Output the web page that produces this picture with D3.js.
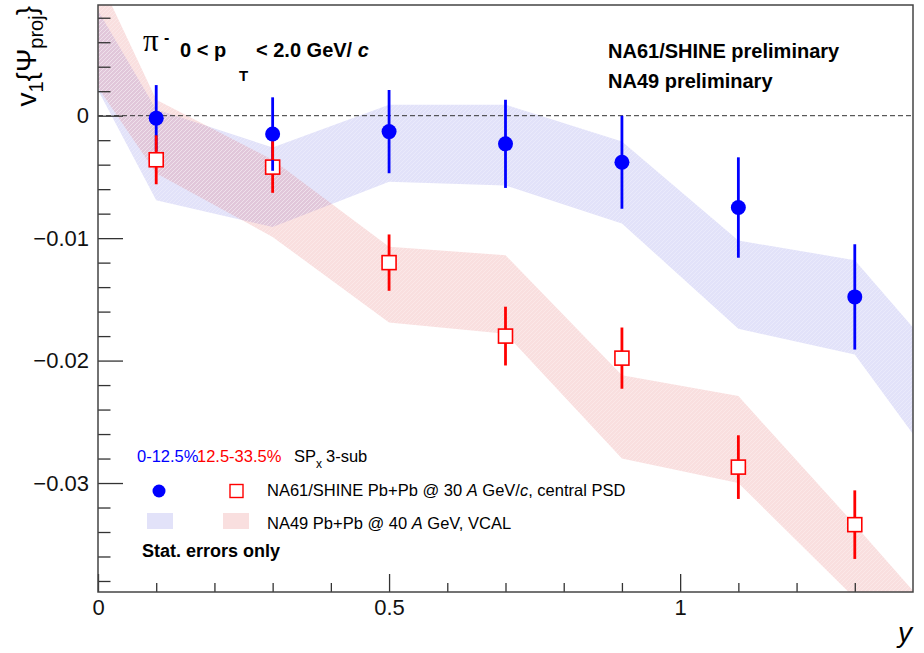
<!DOCTYPE html>
<html>
<head>
<meta charset="utf-8">
<script src="https://cdn.jsdelivr.net/npm/d3@7"></script>
<style>
  body { margin: 0; background: #fff; }
  svg text { font-family: "Liberation Sans", Arial, sans-serif; }
</style>
</head>
<body>
<svg id="chart" width="924" height="653"></svg>
<script>
// rapidity bins of the NA61/SHINE points
var rapidity = [0.1, 0.3, 0.5, 0.7, 0.9, 1.1, 1.3];
// 0-12.5% (blue circles)
var v1Central    = [-0.0002, -0.0015, -0.0013, -0.0023, -0.0038, -0.0075, -0.0148];
var v1CentralErr = [0.0027, 0.0030, 0.0034, 0.0036, 0.0038, 0.0041, 0.0043];
// 12.5-33.5% (red squares)
var v1MidCentral    = [-0.0036, -0.0042, -0.0120, -0.0180, -0.0198, -0.0287, -0.0334];
var v1MidCentralErr = [0.0020, 0.0021, 0.0023, 0.0024, 0.0025, 0.0026, 0.0028];

// NA49 bands (upper / lower edge)
var bandRapidity = [0.0, 0.1, 0.3, 0.5, 0.7, 0.9, 1.1, 1.3, 1.5];
var na49CentralHi = [0.0086, 0.0005, -0.0026, 0.0009, 0.0009, -0.0021, -0.0102, -0.0118, -0.0228];
var na49CentralLo = [0.0021, -0.0069, -0.0091, -0.0054, -0.0057, -0.0088, -0.0174, -0.0195, -0.0325];
var na49MidHi = [0.0114, 0.0013, -0.0036, -0.0107, -0.0114, -0.0212, -0.0229, -0.0334, -0.0442];
var na49MidLo = [0.0023, -0.0047, -0.0099, -0.0169, -0.0178, -0.0280, -0.0300, -0.0394, -0.0501];

var xMajor = [0, 0.5, 1];
var xMajorLabels = ["0", "0.5", "1"];
var xMinor = [0.1, 0.2, 0.3, 0.4, 0.6, 0.7, 0.8, 0.9, 1.1, 1.2, 1.3];
var yMajor = [-0.03, -0.02, -0.01, 0];
var yMajorLabels = ["\u22120.03", "\u22120.02", "\u22120.01", "0"];
var yMinor = [-0.038, -0.036, -0.034, -0.032, -0.028, -0.026, -0.024, -0.022,
              -0.018, -0.016, -0.014, -0.012, -0.008, -0.006, -0.004, -0.002,
              0.002, 0.004, 0.006, 0.008];

var frame = {left: 98, right: 913, top: 5, bottom: 592};
var svg = d3.select("#chart");

var x = d3.scaleLinear().domain([0, 1.4]).range([frame.left, frame.right]);
var y = d3.scaleLinear().domain([-0.0389, 0.00904]).range([frame.bottom, frame.top]);

var defs = svg.append("defs");
defs.append("clipPath").attr("id", "clip")
  .append("rect")
  .attr("x", frame.left).attr("y", frame.top)
  .attr("width", frame.right - frame.left).attr("height", frame.bottom - frame.top);

var hatch = defs.append("pattern")
  .attr("id", "hatch")
  .attr("patternUnits", "userSpaceOnUse")
  .attr("width", 4).attr("height", 4);
hatch.append("path")
  .attr("d", "M-1,1 l2,-2 M0,4 l4,-4 M3,5 l2,-2")
  .attr("stroke", "#fff").attr("stroke-opacity", 0.35).attr("stroke-width", 0.8);

// bands
var band = d3.area()
  .x(function(d) { return x(d.r); })
  .y0(function(d) { return y(d.lo); })
  .y1(function(d) { return y(d.hi); });

function bandData(hi, lo) {
  return bandRapidity.map(function(r, i) { return {r: r, hi: hi[i], lo: lo[i]}; });
}

var gb = svg.append("g").attr("clip-path", "url(#clip)");
gb.append("path").datum(bandData(na49CentralHi, na49CentralLo))
  .attr("d", band).attr("fill", "#7070e0").attr("fill-opacity", 0.2);
gb.append("path").datum(bandData(na49MidHi, na49MidLo))
  .attr("d", band).attr("fill", "#e06060").attr("fill-opacity", 0.2);
gb.append("path").datum(bandData(na49CentralHi, na49CentralLo))
  .attr("d", band).attr("fill", "url(#hatch)");
gb.append("path").datum(bandData(na49MidHi, na49MidLo))
  .attr("d", band).attr("fill", "url(#hatch)");

// zero line
svg.append("line")
  .attr("x1", x(0)).attr("x2", x(1.4))
  .attr("y1", y(0)).attr("y2", y(0))
  .attr("stroke", "#333").attr("stroke-width", 1)
  .style("stroke-dasharray", "5,3");

// axes
var yMinorAxis = svg.append("g")
  .attr("transform", "translate(" + frame.left + ",0)")
  .call(d3.axisLeft(y).tickValues(yMinor).tickSize(-12.5).tickFormat(""));
var yAxis = svg.append("g")
  .attr("transform", "translate(" + frame.left + ",0)")
  .call(d3.axisLeft(y).tickValues(yMajor).tickSize(-25).tickPadding(9)
        .tickFormat(function(d, i) { return yMajorLabels[i]; }));
var xMinorAxis = svg.append("g")
  .attr("transform", "translate(0," + frame.bottom + ")")
  .call(d3.axisBottom(x).tickValues(xMinor).tickSize(-9).tickFormat(""));
var xAxis = svg.append("g")
  .attr("transform", "translate(0," + frame.bottom + ")")
  .call(d3.axisBottom(x).tickValues(xMajor).tickSize(-18).tickPadding(7)
        .tickFormat(function(d, i) { return xMajorLabels[i]; }));

svg.selectAll(".domain").remove();
svg.selectAll(".tick line").attr("stroke", "#333").attr("stroke-width", 1.3);
svg.selectAll(".tick text")
  .style("font-family", "'Liberation Sans', Arial, sans-serif")
  .style("font-size", "22px").attr("fill", "#111");

svg.append("rect")
  .attr("x", frame.left).attr("y", frame.top)
  .attr("width", frame.right - frame.left).attr("height", frame.bottom - frame.top)
  .attr("fill", "none").attr("stroke", "#444").attr("stroke-width", 1.5);

// points
var blue = rapidity.map(function(r, i) { return {r: r, v: v1Central[i], e: v1CentralErr[i]}; });
var red = rapidity.map(function(r, i) { return {r: r, v: v1MidCentral[i], e: v1MidCentralErr[i]}; });
var half = 7;

svg.selectAll(".sq").data(red).enter().append("rect")
  .attr("class", "sq")
  .attr("x", function(d) { return x(d.r) - half; })
  .attr("y", function(d) { return y(d.v) - half; })
  .attr("width", 2 * half).attr("height", 2 * half)
  .attr("fill", "#fff").attr("stroke", "#ff0000").attr("stroke-width", 1.6);

svg.selectAll(".bluebar").data(blue).enter().append("line")
  .attr("class", "bluebar")
  .attr("x1", function(d) { return x(d.r); }).attr("x2", function(d) { return x(d.r); })
  .attr("y1", function(d) { return y(d.v + d.e); }).attr("y2", function(d) { return y(d.v - d.e); })
  .attr("stroke", "#0000ff").attr("stroke-width", 2.8);

svg.selectAll(".dot").data(blue).enter().append("circle")
  .attr("class", "dot")
  .attr("cx", function(d) { return x(d.r); })
  .attr("cy", function(d) { return y(d.v); })
  .attr("r", 7.5).attr("fill", "#0000ff");

svg.selectAll(".redup").data(red).enter().append("line")
  .attr("class", "redup")
  .attr("x1", function(d) { return x(d.r); }).attr("x2", function(d) { return x(d.r); })
  .attr("y1", function(d) { return y(d.v + d.e); }).attr("y2", function(d) { return y(d.v) - half; })
  .attr("stroke", "#ff0000").attr("stroke-width", 2.8);
svg.selectAll(".reddn").data(red).enter().append("line")
  .attr("class", "reddn")
  .attr("x1", function(d) { return x(d.r); }).attr("x2", function(d) { return x(d.r); })
  .attr("y1", function(d) { return y(d.v) + half; }).attr("y2", function(d) { return y(d.v - d.e); })
  .attr("stroke", "#ff0000").attr("stroke-width", 2.8);

// axis titles
var yt = svg.append("text")
  .attr("transform", "translate(36,6) rotate(-90)")
  .attr("text-anchor", "end")
  .style("font-size", "28px").attr("fill", "#000");
yt.append("tspan").text("v");
yt.append("tspan").attr("dy", 7).style("font-size", "20px").text("1");
yt.append("tspan").attr("dy", -7).text("{\u03A8");
yt.append("tspan").attr("dy", 7).style("font-size", "20px").text("proj");
yt.append("tspan").attr("dy", -7).text("}");

svg.append("text")
  .attr("x", 912).attr("y", 642)
  .attr("text-anchor", "end")
  .style("font-size", "28px").style("font-style", "italic")
  .text("y");

// pion label
svg.append("text").attr("x", 143).attr("y", 51)
  .style("font-family", "'Liberation Serif', serif").style("font-size", "31px")
  .text("\u03C0");
svg.append("text").attr("x", 164).attr("y", 43)
  .style("font-size", "16px").style("font-weight", "bold").text("-");
var pt = svg.append("text").attr("x", 180).attr("y", 57)
  .style("font-size", "20px").style("font-weight", "bold");
pt.append("tspan").text("0 < p");
pt.append("tspan").attr("x", 239).attr("dy", 24).style("font-size", "15px").text("T");
pt.append("tspan").attr("x", 256).attr("dy", -24).text("< 2.0 GeV/ ");
pt.append("tspan").style("font-style", "italic").text("c");

svg.append("text").attr("x", 608).attr("y", 58)
  .style("font-size", "20px").style("font-weight", "bold").text("NA61/SHINE preliminary");
svg.append("text").attr("x", 608).attr("y", 88)
  .style("font-size", "20px").style("font-weight", "bold").text("NA49 preliminary");

// legend
svg.append("text").attr("x", 137).attr("y", 462)
  .style("font-size", "16.5px").attr("fill", "#0000ff").text("0-12.5%");
svg.append("text").attr("x", 197).attr("y", 462)
  .style("font-size", "16.5px").attr("fill", "#ff0000").text("12.5-33.5%");
var sp = svg.append("text").attr("x", 294).attr("y", 462).style("font-size", "16.5px");
sp.append("tspan").text("SP");
sp.append("tspan").attr("dy", 6).style("font-size", "12px").text("x");
sp.append("tspan").attr("dy", -6).attr("dx", 4).text("3-sub");

svg.append("circle").attr("cx", 159).attr("cy", 491).attr("r", 6.5).attr("fill", "#0000ff");
svg.append("rect").attr("x", 230).attr("y", 484.5).attr("width", 13).attr("height", 13)
  .attr("fill", "#fff").attr("stroke", "#ff0000").attr("stroke-width", 1.4);
var l1 = svg.append("text").attr("x", 267).attr("y", 496).style("font-size", "16.5px");
l1.append("tspan").text("NA61/SHINE Pb+Pb @ 30 ");
l1.append("tspan").style("font-style", "italic").text("A");
l1.append("tspan").text(" GeV/");
l1.append("tspan").style("font-style", "italic").text("c");
l1.append("tspan").text(", central PSD");

svg.append("rect").attr("x", 147).attr("y", 513).attr("width", 26).attr("height", 16)
  .attr("fill", "#7070e0").attr("fill-opacity", 0.2);
svg.append("rect").attr("x", 223).attr("y", 513).attr("width", 26).attr("height", 16)
  .attr("fill", "#e06060").attr("fill-opacity", 0.2);
var l2 = svg.append("text").attr("x", 267).attr("y", 529).style("font-size", "16.5px");
l2.append("tspan").text("NA49 Pb+Pb @ 40 ");
l2.append("tspan").style("font-style", "italic").text("A");
l2.append("tspan").text(" GeV, VCAL");

svg.append("text").attr("x", 142).attr("y", 557)
  .style("font-size", "18px").style("font-weight", "bold").text("Stat. errors only");
</script>
</body>
</html>
